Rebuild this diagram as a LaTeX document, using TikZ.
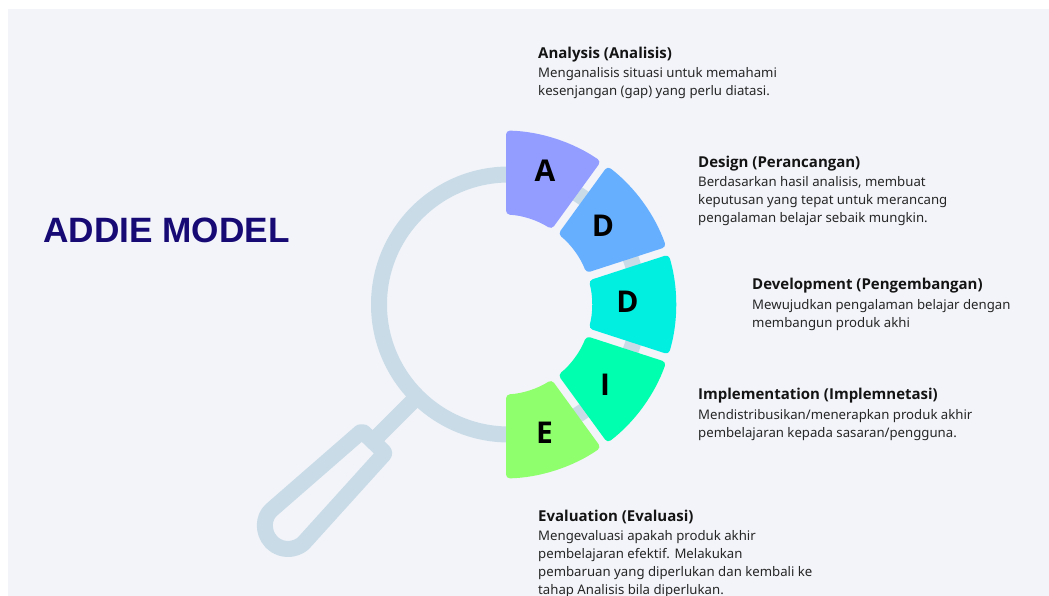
\documentclass[tikz,border=0pt]{standalone}
\usepackage{fontspec}
\setmainfont{Noto Sans}
\newfontfamily\titlefont{Liberation Sans}
\newfontfamily\headfont{Open Sans}
\usepackage{tikz}

\definecolor{panelbg}{HTML}{F2F4FA}
\definecolor{lensblue}{HTML}{C9DBE7}
\definecolor{titleblue}{HTML}{170A75}
\definecolor{colA}{HTML}{929DFF}
\definecolor{colD}{HTML}{66AFFF}
\definecolor{colDv}{HTML}{00EFE0}
\definecolor{colI}{HTML}{00FFAE}
\definecolor{colE}{HTML}{90FF6D}

\tikzset{
	lens/.style={draw=lensblue, line width=16pt},
	sector/.style={rounded corners=4pt},
	letter/.style={font=\fontsize{30}{30}\selectfont\headfont\bfseries, text=black, inner sep=0pt},
	head/.style={anchor=base west, inner sep=0pt, font=\fontsize{15}{18}\selectfont\headfont\bfseries, text=black!92},
	body/.style={anchor=north west, inner sep=0pt, align=left, font=\fontsize{13.2}{18}\selectfont, text=black!85},
}

% #1 middle angle, #2 colour
\newcommand{\addiesector}[2]{
	\fill[sector, #2] ({502+174*cos(#1+16.68)},{291.5+174*sin(#1+16.68)})
		arc[start angle=#1+16.68, end angle=#1-16.68, radius=174]
		-- ({502+90*cos(#1-15.45)},{291.5+90*sin(#1-15.45)})
		arc[start angle=#1-15.45, end angle=#1+15.45, radius=90]
		-- cycle;
}

\begin{document}
\begin{tikzpicture}[x=1pt, y=1pt]

	\useasboundingbox (0,0) rectangle (1049,596);
	\fill[panelbg] (8,0) rectangle (1049,587);

	\node[anchor=base west, inner sep=0pt, text=titleblue, font=\fontsize{35.2}{37}\selectfont\titlefont\bfseries] (title) at (43,353) {ADDIE MODEL};

	% magnifier behind the sectors
	\draw[lens] (509,291.5) circle (130);
	\draw[lens] (412,194) -- (375,157);
	\draw[lens, line join=round, rounded corners=2pt] (385,143) -- (362,165) -- (272.6,87.1)
		arc[start angle=132, end angle=318, radius=23] -- cycle;

	\addiesector{72}{colA}
	\addiesector{36}{colD}
	\addiesector{0}{colDv}
	\addiesector{-36}{colI}
	\addiesector{-72}{colE}

	\node[letter] (la) at (545,425) {A};
	\node[letter] (ld) at (603,370) {D};
	\node[letter] (ldv) at (627.5,294) {D};
	\node[letter] (li) at (605,211) {I};
	\node[letter] (le) at (544.5,163) {E};

	\node[head] (ha) at (538,537.5) {Analysis (Analisis)};
	\node[body] (ta) at (538,529) {Menganalisis situasi untuk memahami\\kesenjangan (gap) yang perlu diatasi.};

	\node[head] (hd) at (698,428.5) {Design (Perancangan)};
	\node[body] (td) at (698,420) {Berdasarkan hasil analisis, membuat\\keputusan yang tepat untuk merancang\\pengalaman belajar sebaik mungkin.};

	\node[head] (hdv) at (752,306) {Development (Pengembangan)};
	\node[body] (tdv) at (752,297) {Mewujudkan pengalaman belajar dengan\\membangun produk akhi};

	\node[head] (hi) at (698,196) {Implementation (Implemnetasi)};
	\node[body] (ti) at (698,187) {Mendistribusikan/menerapkan produk akhir\\pembelajaran kepada sasaran/pengguna.};

	\node[head] (he) at (538,74) {Evaluation (Evaluasi)};
	\node[body] (te) at (538,65.5) {Mengevaluasi apakah produk akhir\\pembelajaran efektif. Melakukan\\pembaruan yang diperlukan dan kembali ke\\tahap Analisis bila diperlukan.};

\end{tikzpicture}
\end{document}
